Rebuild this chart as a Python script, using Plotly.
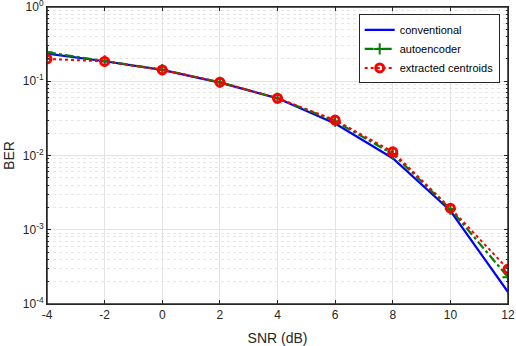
import plotly.graph_objects as go

snr = [-4, -2, 0, 2, 4, 6, 8, 10, 12]
ber_conventional = [0.235, 0.186, 0.142, 0.096, 0.059, 0.027, 0.0092, 0.0018, 0.000145]
ber_autoencoder = [0.245, 0.188, 0.143, 0.097, 0.059, 0.029, 0.0105, 0.0019, 0.00023]
ber_centroids = [0.20, 0.185, 0.142, 0.097, 0.059, 0.030, 0.0112, 0.00195, 0.000295]

x_tickvals = [-4, -2, 0, 2, 4, 6, 8, 10, 12]
x_ticktext = ["-4", "-2", "0", "2", "4", "6", "8", "10", "12"]
y_tickvals = [1e-4, 1e-3, 1e-2, 1e-1, 1]
y_ticktext = ["10<sup>-4</sup>", "10<sup>-3</sup>", "10<sup>-2</sup>", "10<sup>-1</sup>", "10<sup>0</sup>"]

fig = go.Figure()

fig.add_trace(go.Scatter(
    x=snr, y=ber_conventional, mode="lines", name="conventional",
    line=dict(color="#0000ff", width=2.2)
))

fig.add_trace(go.Scatter(
    x=snr, y=ber_autoencoder, mode="lines+markers", name="autoencoder",
    line=dict(color="#008000", width=2.2, dash="dashdot"),
    marker=dict(symbol="cross-thin-open", size=8, line=dict(color="#008000", width=2))
))

fig.add_trace(go.Scatter(
    x=snr, y=ber_centroids, mode="lines+markers", name="extracted centroids",
    line=dict(color="#ff0000", width=2, dash="dot"),
    marker=dict(symbol="circle-open", size=8, color="#ff0000", line=dict(color="#ff0000", width=3))
))

axis_common = dict(
    showline=True, linecolor="#262626", linewidth=1, mirror="ticks",
    ticks="inside", ticklen=4, tickcolor="#262626",
    showgrid=True, gridcolor="#e3e3e3", gridwidth=1, zeroline=False,
    tickfont=dict(size=12, color="#262626"),
    automargin=False, ticklabeloverflow="allow",
)

fig.update_layout(
    width=516, height=346,
    margin=dict(l=47, r=8, t=7, b=42),
    paper_bgcolor="white", plot_bgcolor="white",
    font=dict(family="Liberation Sans, Arial, sans-serif", color="#262626"),
    xaxis=dict(
        axis_common, range=[-4, 12], tickvals=x_tickvals, ticktext=x_ticktext,
        title=dict(text="SNR (dB)", font=dict(size=14), standoff=11),
    ),
    yaxis=dict(
        axis_common, type="log", range=[-4, 0],
        tickvals=y_tickvals, ticktext=y_ticktext,
        title=dict(text="BER", font=dict(size=14), standoff=4),
        minor=dict(dtick="D1", showgrid=True, gridcolor="#e6e6e6", griddash="dot",
                   ticks="inside", ticklen=2, tickcolor="#262626"),
    ),
    legend=dict(
        x=0.982, y=0.975, xanchor="right", yanchor="top",
        bgcolor="white", bordercolor="#262626", borderwidth=1,
        font=dict(size=11, color="black"), tracegroupgap=0,
    ),
    showlegend=True,
)

# axes box frame (top and right edges like MATLAB's box on)
fig.add_shape(type="rect", xref="paper", yref="paper", x0=0, x1=1, y0=0, y1=1,
              line=dict(color="#262626", width=1.5), layer="above")

# drop the default page margin so the figure sits at the window corner
fig.write_html("out.html", config={"displayModeBar": False},
               post_script="document.body.style.margin='0px';")
